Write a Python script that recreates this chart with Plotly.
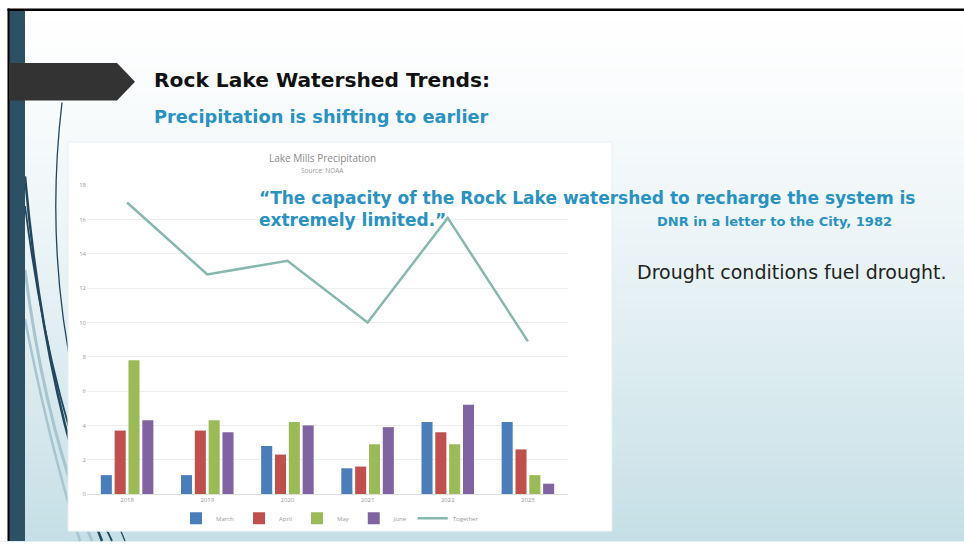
import plotly.graph_objects as go

W, H = 964, 545

years = ["2018", "2019", "2020", "2021", "2022", "2023"]
march = [1.1, 1.1, 2.8, 1.5, 4.2, 4.2]
april = [3.7, 3.7, 2.3, 1.6, 3.6, 2.6]
may = [7.8, 4.3, 4.2, 2.9, 2.9, 1.1]
june = [4.3, 3.6, 4.0, 3.9, 5.2, 0.6]
together = [17.0, 12.8, 13.6, 10.0, 16.1, 8.9]
series_names = ["March", "April", "May", "June", "Together"]
y_ticks = [0, 2, 4, 6, 8, 10, 12, 14, 16, 18]


def px(x):
    return x / W


def py(y):
    return 1 - y / H


fig = go.Figure()
bar_colors = ["#4a7ebb", "#c0504d", "#9bbb59", "#8064a2"]
for name, vals, col in zip(series_names[:4], [march, april, may, june], bar_colors):
    fig.add_trace(go.Bar(x=years, y=vals, name=name, marker_color=col,
                         marker_line_width=0))
fig.add_trace(go.Scatter(x=years, y=together, name=series_names[4], mode="lines",
                         line=dict(color="#86b8b0", width=2.5)))

shapes = []
# background gradient (vertical bands)
top = (255, 255, 255)
bot = (197, 223, 230)
n = 60
for i in range(n):
    t = (i + 0.5) / n
    f = t ** 1.3
    c = tuple(int(round(top[k] + (bot[k] - top[k]) * f)) for k in range(3))
    y0 = i * H / n
    y1 = (i + 1) * H / n + 0.6
    shapes.append(dict(type="rect", xref="paper", yref="paper", x0=0, x1=1,
                       y0=py(y1), y1=py(y0), line_width=0,
                       fillcolor="rgb(%d,%d,%d)" % c, layer="below"))
# white margin left/top
shapes.append(dict(type="rect", xref="paper", yref="paper", x0=0, x1=px(8),
                   y0=0, y1=1, line_width=0, fillcolor="white", layer="below"))
shapes.append(dict(type="rect", xref="paper", yref="paper", x0=0, x1=1,
                   y0=py(5), y1=1, line_width=0, fillcolor="white", layer="below"))


# decorative curves (pixel space -> paper)
def curve(x0, y0, cx, cy, x1, y1, color, width):
    return dict(type="path", xref="paper", yref="paper",
                path="M %f,%f Q %f,%f %f,%f" % (px(x0), py(y0), px(cx), py(cy), px(x1), py(y1)),
                line=dict(color=color, width=width), layer="below")


light = "#a7c4cf"
dark = "#21465d"
shapes.append(curve(25, 270, 45, 430, 92, 545, light, 3))
shapes.append(curve(25, 320, 50, 450, 80, 545, light, 2.5))
shapes.append(curve(25, 175, 45, 400, 102, 545, dark, 2.5))
shapes.append(curve(25, 205, 52, 420, 112, 545, dark, 1.8))
shapes.append(curve(62, 100, 35, 330, 125, 545, dark, 1.3))

# chart image background
shapes.append(dict(type="rect", xref="paper", yref="paper", x0=px(68), x1=px(612),
                   y0=py(535), y1=py(140), line=dict(color="#e6eef0", width=1),
                   fillcolor="white", layer="below"))
# left slate band and black borders
shapes.append(dict(type="rect", xref="paper", yref="paper", x0=px(9), x1=px(25),
                   y0=0, y1=py(6), line_width=0, fillcolor="#2c5064", layer="below"))
shapes.append(dict(type="rect", xref="paper", yref="paper", x0=px(7.5), x1=px(9.5),
                   y0=0, y1=py(4.5), line_width=0, fillcolor="#000000", layer="below"))
shapes.append(dict(type="rect", xref="paper", yref="paper", x0=px(7.5), x1=1,
                   y0=py(7), y1=py(4.5), line_width=0, fillcolor="#000000", layer="below"))
# header arrow
shapes.append(dict(type="path", xref="paper", yref="paper",
                   path="M %f,%f L %f,%f L %f,%f L %f,%f L %f,%f Z" % (
                       px(9), py(60), px(117), py(60), px(135), py(79),
                       px(117), py(98), px(9), py(98)),
                   line_width=0, fillcolor="#333333", layer="below"))

ann = []
teal = "#2992c1"
ann.append(dict(text="<b>Rock Lake Watershed Trends:</b>", x=px(152), y=py(77),
                xref="paper", yref="paper", xanchor="left", yanchor="middle",
                showarrow=False, font=dict(family="DejaVu Sans", size=20.2, color="#111111")))
ann.append(dict(text="<b>Precipitation is shifting to earlier</b>", x=px(152), y=py(114),
                xref="paper", yref="paper", xanchor="left", yanchor="middle",
                showarrow=False, font=dict(family="DejaVu Sans", size=17.8, color=teal)))
ann.append(dict(text="Lake Mills Precipitation", x=px(322), y=py(156),
                xref="paper", yref="paper", xanchor="center", yanchor="middle",
                showarrow=False, font=dict(family="Open Sans", size=10, color="#8a8a8a")))
ann.append(dict(text="Source: NOAA", x=px(322), y=py(169),
                xref="paper", yref="paper", xanchor="center", yanchor="middle",
                showarrow=False, font=dict(family="Open Sans", size=6.5, color="#9a9a9a")))
ann.append(dict(text="<b>\u201cThe capacity of the Rock Lake watershed to recharge the system is</b>",
                x=px(257), y=py(197), xref="paper", yref="paper", xanchor="left",
                yanchor="middle", showarrow=False,
                font=dict(family="DejaVu Sans", size=17, color=teal)))
ann.append(dict(text="<b>extremely limited.\u201d</b>",
                x=px(257), y=py(219), xref="paper", yref="paper", xanchor="left",
                yanchor="middle", showarrow=False,
                font=dict(family="DejaVu Sans", size=17, color=teal)))
ann.append(dict(text="<b>DNR in a letter to the City, 1982</b>",
                x=px(655), y=py(221), xref="paper", yref="paper", xanchor="left",
                yanchor="middle", showarrow=False,
                font=dict(family="DejaVu Sans", size=13, color=teal)))
ann.append(dict(text="Drought conditions fuel drought.",
                x=px(635), y=py(272), xref="paper", yref="paper", xanchor="left",
                yanchor="middle", showarrow=False,
                font=dict(family="DejaVu Sans", size=19, color="#222222")))

fig.update_layout(
    width=W, height=H, margin=dict(l=0, r=0, t=0, b=0),
    paper_bgcolor="white", plot_bgcolor="rgba(0,0,0,0)",
    shapes=shapes, annotations=ann,
    barmode="group", bargap=0.31, bargroupgap=0.2,
    showlegend=True,
    legend=dict(orientation="h", x=px(330), y=py(522), xanchor="center",
                yanchor="middle", font=dict(family="Open Sans", size=6, color="#9a9a9a"),
                bgcolor="rgba(0,0,0,0)", itemwidth=30, traceorder="normal"),
    xaxis=dict(domain=[px(87), px(568)], type="category", showgrid=False,
               showline=True, linecolor="#e0e0e0", linewidth=1,
               tickfont=dict(family="Open Sans", size=6, color="#9a9a9a"), ticks=""),
    yaxis=dict(domain=[py(497.3), py(184)], range=[0, 18], tickvals=y_ticks,
               showgrid=True, gridcolor="#eeeeee", gridwidth=1, zeroline=False,
               tickfont=dict(family="Open Sans", size=6, color="#9a9a9a"), ticks=""),
)

fig.write_html("out.html")
